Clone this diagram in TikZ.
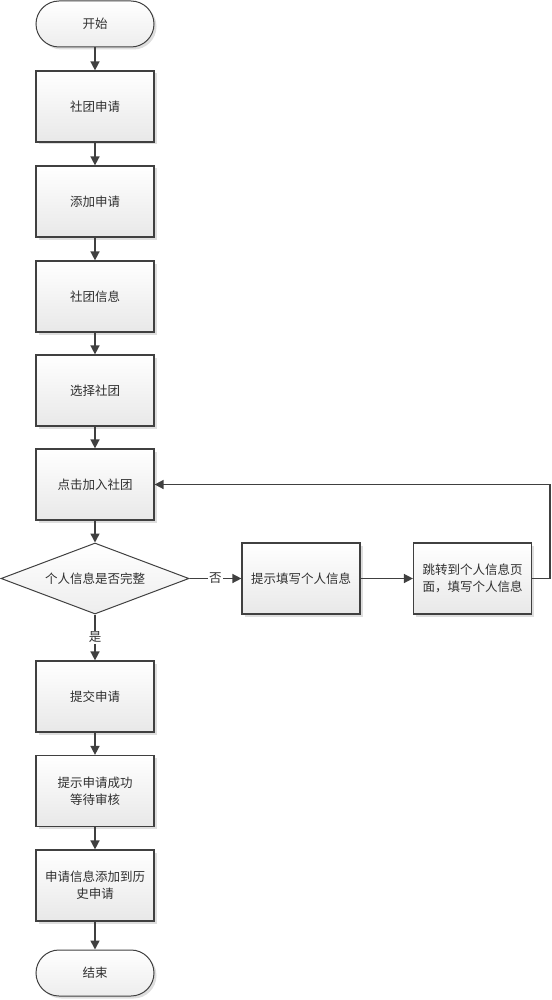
\documentclass[tikz,border=0pt]{standalone}
\usepackage{fontspec}
\newfontfamily\cjk{Noto Sans CJK SC}
\usetikzlibrary{arrows.meta,shapes.geometric,shadows}
\definecolor{ln}{HTML}{404040}
\definecolor{tx}{HTML}{303030}
\begin{document}
\begin{tikzpicture}[x=1pt,y=-1pt,
 every node/.style={font=\cjk\fontsize{12.5}{17}\selectfont, text=tx},
 shad/.style={drop shadow={shadow xshift=2.5pt, shadow yshift=-2.5pt, fill=black!13, opacity=1}},
 box/.style={draw=ln, line width=1.2pt, top color=white, bottom color=black!9, minimum width=118pt, minimum height=71pt, inner sep=2pt, align=center, shad},
 term/.style={draw=ln, line width=1pt, rounded corners=23pt, minimum width=118pt, minimum height=46pt, top color=white, bottom color=black!7, shad},
 dec/.style={diamond, aspect=2.65, draw=ln, line width=1pt, minimum width=188pt, minimum height=71pt, inner sep=0pt, top color=white, bottom color=black!7},
 arr/.style={draw=ln, line width=1.5pt, -{Triangle[length=9pt,width=9pt]}},
 lbl/.style={fill=white, inner sep=1pt}
]
\useasboundingbox (0,0) rectangle (551,1000);
\node[term] (start) at (95,24) {开始};
\node[box] (b1) at (95,106.5) {社团申请};
\node[box] (b2) at (95,201.5) {添加申请};
\node[box] (b3) at (95,296.5) {社团信息};
\node[box] (b4) at (95,390.5) {选择社团};
\node[box] (b5) at (95,484.5) {点击加入社团};
\node[dec] (d) at (95,578.5) {个人信息是否完整};
\node[box] (b6) at (301,578.5) {提示填写个人信息};
\node[box] (b7) at (472.5,578.5) {跳转到个人信息页\\面，填写个人信息};
\node[box] (b8) at (95,696.5) {提交申请};
\node[box] (b9) at (95,791) {提示申请成功\\等待审核};
\node[box] (b10) at (95,885.5) {申请信息添加到历\\史申请};
\node[term] (end) at (95,973) {结束};
\draw[arr] (start) -- (b1);
\draw[arr] (b1) -- (b2);
\draw[arr] (b2) -- (b3);
\draw[arr] (b3) -- (b4);
\draw[arr] (b4) -- (b5);
\draw[arr] (b5) -- (d);
\draw[arr] (d.east) -- node[lbl]{否} (b6.west);
\draw[arr] (b6) -- (b7);
\coordinate (lp) at (550,578.5);
\draw[arr] (b7.east) -- (lp) |- (b5.east);
\draw[arr] (d.south) -- node[lbl]{是} (b8.north);
\draw[arr] (b8) -- (b9);
\draw[arr] (b9) -- (b10);
\draw[arr] (b10) -- (end);
\end{tikzpicture}
\end{document}
